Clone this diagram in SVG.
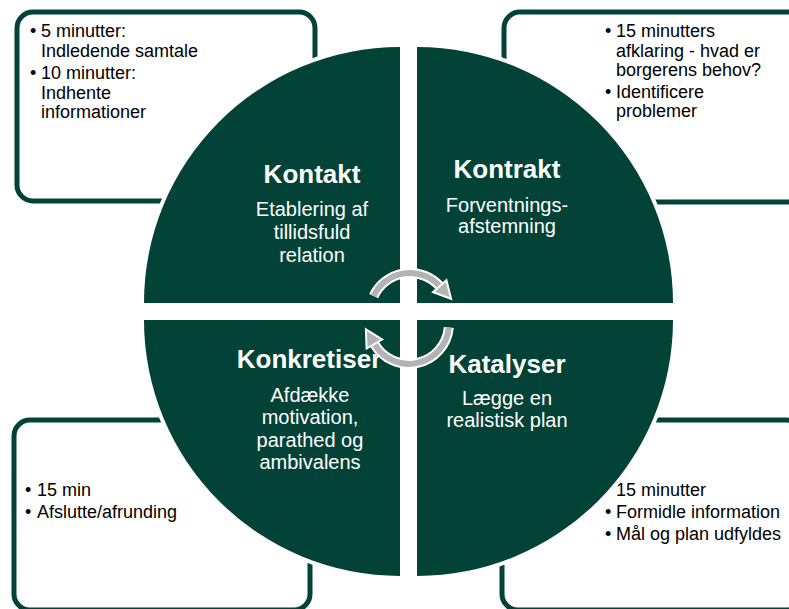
<svg xmlns="http://www.w3.org/2000/svg" width="789" height="609" viewBox="0 0 789 609">
<style>
.box{fill:#fff;stroke:#034237;stroke-width:5}
.q{fill:#034237;stroke:#fff;stroke-width:8;paint-order:stroke}
.bt{font-family:"Liberation Sans",Arial,sans-serif;font-size:18px;fill:#000}
.h{font-family:"Liberation Sans",Arial,sans-serif;font-size:26px;font-weight:bold;fill:#fff;text-anchor:middle}
.s{font-family:"Liberation Sans",Arial,sans-serif;font-size:20px;fill:#fff;text-anchor:middle}
.aw{fill:none;stroke:#fff;stroke-width:10}
.ag{fill:none;stroke:#b3b3b3;stroke-width:6}
.ah{fill:#b3b3b3;stroke:#fff;stroke-width:2}
</style>
<rect width="789" height="609" fill="#fff"/>
<g id="box-tl">
<rect class="box" x="17" y="12" width="298" height="189" rx="16"/>
<text class="bt"><tspan x="30" y="37">•</tspan><tspan x="41" y="37">5 minutter:</tspan><tspan x="41" y="57">Indledende samtale</tspan><tspan x="30" y="79">•</tspan><tspan x="41" y="79">10 minutter:</tspan><tspan x="41" y="99">Indhente</tspan><tspan x="41" y="118">informationer</tspan></text>
</g>
<g id="box-tr">
<rect class="box" x="504" y="12" width="300" height="190" rx="16"/>
<text class="bt"><tspan x="605" y="37">•</tspan><tspan x="616" y="37">15 minutters</tspan><tspan x="616" y="57">afklaring - hvad er</tspan><tspan x="616" y="76">borgerens behov?</tspan><tspan x="605" y="98">•</tspan><tspan x="616" y="98">Identificere</tspan><tspan x="616" y="117">problemer</tspan></text>
</g>
<g id="box-bl">
<rect class="box" x="14" y="420" width="296" height="190" rx="16"/>
<text class="bt"><tspan x="25" y="496">•</tspan><tspan x="37" y="496">15 min</tspan><tspan x="25" y="518">•</tspan><tspan x="37" y="518">Afslutte/afrunding</tspan></text>
</g>
<g id="box-br">
<rect class="box" x="502" y="420" width="300" height="190" rx="16"/>
<text class="bt"><tspan x="616" y="496">15 minutter</tspan><tspan x="605" y="518">•</tspan><tspan x="616" y="518">Formidle information</tspan><tspan x="605" y="540">•</tspan><tspan x="616" y="540">Mål og plan udfyldes</tspan></text>
</g>
<g id="kontakt">
<path class="q" d="M400,303 L144,303 A256,256 0 0 1 400,47 Z"/>
<text class="h" x="312" y="183">Kontakt</text>
<text class="s"><tspan x="312" y="216">Etablering af</tspan><tspan x="312" y="239">tillidsfuld</tspan><tspan x="312" y="262">relation</tspan></text>
</g>
<g id="kontrakt">
<path class="q" d="M417,303 L417,47 A256,256 0 0 1 673,303 Z"/>
<text class="h" x="507" y="178">Kontrakt</text>
<text class="s"><tspan x="507" y="212">Forventnings-</tspan><tspan x="507" y="233">afstemning</tspan></text>
</g>
<g id="konkretiser">
<path class="q" d="M400,320 L400,576 A256,256 0 0 1 144,320 Z"/>
<text class="h" x="309" y="368">Konkretiser</text>
<text class="s"><tspan x="310" y="402">Afdække</tspan><tspan x="310" y="424">motivation,</tspan><tspan x="310" y="447">parathed og</tspan><tspan x="310" y="469">ambivalens</tspan></text>
</g>
<g id="katalyser">
<path class="q" d="M417,320 L673,320 A256,256 0 0 1 417,576 Z"/>
<text class="h" x="507" y="373">Katalyser</text>
<text class="s"><tspan x="507" y="405">Lægge en</tspan><tspan x="507" y="427">realistisk plan</tspan></text>
</g>
<g id="connectors">
<path class="aw" d="M373.7,296.1 A40,40 0 0 1 439.7,286.2"/>
<path class="ag" d="M373.7,296.1 A40,40 0 0 1 439.7,286.2"/>
<polygon class="ah" points="446.4,280.2 433,292.2 451.1,298.8"/>
<path class="aw" d="M448.8,327.5 A40,40 0 0 1 374.4,344"/>
<path class="ag" d="M448.8,327.5 A40,40 0 0 1 374.4,344"/>
<polygon class="ah" points="382.2,339.5 366.6,348.5 365.9,329.3"/>
</g>
</svg>
